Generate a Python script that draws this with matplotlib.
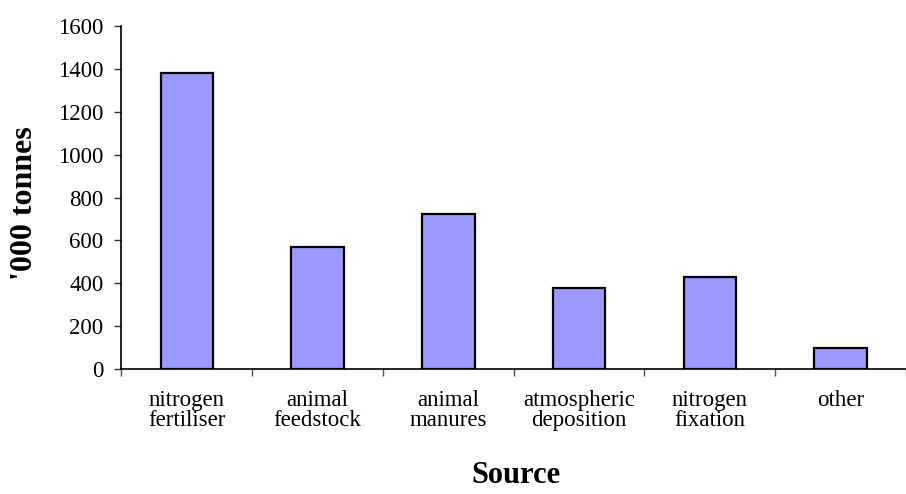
import matplotlib
matplotlib.use("Agg")
import matplotlib.pyplot as plt
import numpy as np

categories = ["nitrogen\nfertiliser", "animal\nfeedstock", "animal\nmanures",
              "atmospheric\ndeposition", "nitrogen\nfixation", "other"]
values = [1380, 570, 725, 380, 430, 100]
yticks = [0, 200, 400, 600, 800, 1000, 1200, 1400, 1600]

plt.rcParams['font.family'] = ['Liberation Serif', 'DejaVu Serif']

fig = plt.figure(figsize=(9.06, 4.94), dpi=100)
ax = fig.add_axes([0.1341, 0.2524, 1.0 - 0.1341, 0.948 - 0.2524])

x = np.arange(len(categories))
ax.bar(x, values, width=0.4, color='#9999FF', edgecolor='black', linewidth=1.6, zorder=3)

ax.set_ylim(0, 1600)
ax.set_xlim(-0.5, 5.434)
ax.set_yticks(yticks)
ax.set_yticklabels([str(t) for t in yticks], fontsize=16.5)
ax.set_xticks(x)
ax.set_xticklabels(categories, fontsize=16.5, linespacing=0.95)
ax.set_xticks(np.arange(len(categories) + 1) - 0.5, minor=True)
ax.tick_params(axis='x', which='major', length=0, pad=15)
ax.tick_params(axis='x', which='minor', length=5, width=1, color='#555555', direction='out')
ax.tick_params(axis='y', length=5, width=1, pad=8, color='#333333', direction='out')

for s in ['top', 'right']:
    ax.spines[s].set_visible(False)
for s in ['left', 'bottom']:
    ax.spines[s].set_linewidth(1.2)

ax.set_ylabel("'000 tonnes", fontsize=23, fontweight='bold')
ax.yaxis.set_label_coords(-0.105, 0.485)
ax.set_xlabel("Source", fontsize=22, fontweight='bold')
ax.xaxis.set_label_coords(0.503, -0.268)

fig.savefig("out.png", dpi=100)
